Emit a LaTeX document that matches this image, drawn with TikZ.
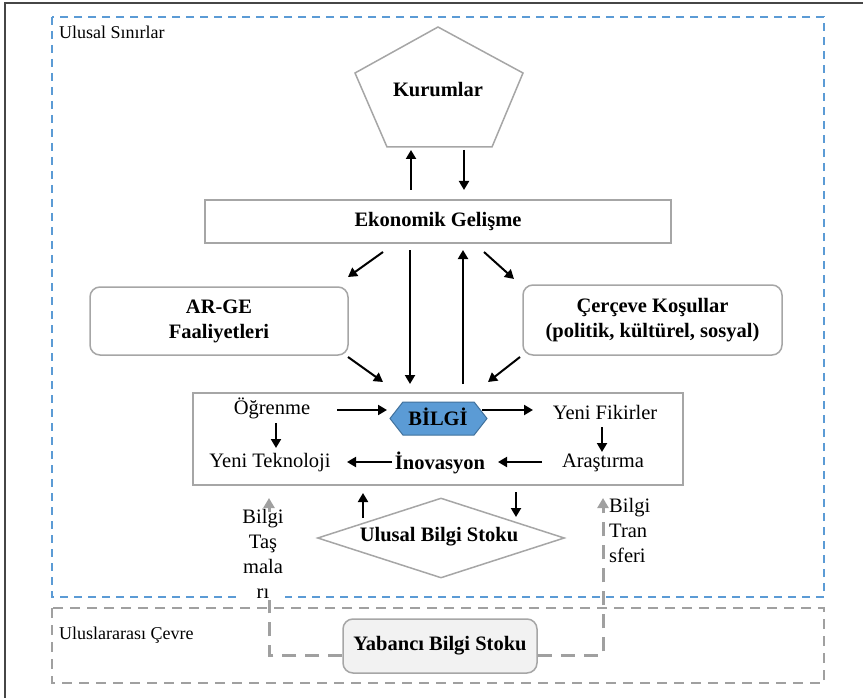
\documentclass[tikz,border=0pt]{standalone}
\usepackage{fontspec}
\setmainfont{Liberation Serif}
\usetikzlibrary{arrows.meta,shapes.geometric,shapes.symbols,calc}
\definecolor{borderblue}{RGB}{91,155,213}
\definecolor{boxgray}{RGB}{166,166,166}
\definecolor{dashgray}{RGB}{160,160,160}
\definecolor{hexfill}{RGB}{91,155,213}
\definecolor{hexline}{RGB}{65,113,156}
\definecolor{stockfill}{RGB}{242,242,242}
\definecolor{framegray}{RGB}{70,70,70}
\begin{document}
\begin{tikzpicture}[x=1pt,y=-1pt,
  box/.style={draw=boxgray, line width=1.5pt, fill=white, inner sep=0pt},
  rbox/.style={box, rounded corners=10pt},
  arr/.style={line width=2pt, -{Triangle[length=9pt,width=10pt]}},
  flow/.style={color=dashgray, line width=3pt, dash pattern=on 14pt off 9pt},
  flowtip/.style={color=dashgray, line width=3pt, solid, -{Triangle[length=10pt,width=11pt]}},
  txt/.style={font=\fontsize{20.5}{25}\selectfont, inner sep=0pt},
  btxt/.style={font=\fontsize{20.5}{25}\selectfont\bfseries, inner sep=0pt},
  lbl/.style={font=\fontsize{18}{22}\selectfont, inner sep=0pt},
  region/.style={line width=2.2pt}
]
\useasboundingbox (0,0) rectangle (863,698);

% page frame (top and left edges)
\draw[framegray, line width=1.5pt] (5,698) -- (5,3) -- (863,3);

% national boundary and international environment
\draw[region, borderblue, dash pattern=on 8pt off 6pt] (52,17) rectangle (824,597);
\draw[region, dashgray, dash pattern=on 10pt off 7pt] (52,608) rectangle (824,683);
\node[lbl, anchor=base west] (ulusal) at (59,39) {Ulusal Sınırlar};
\node[lbl, anchor=base west] (cevre) at (59,639) {Uluslararası Çevre};

% institutions
\draw[boxgray, line width=1.5pt, fill=white]
  (438,27) -- (523,73) -- (492,147) -- (387,147) -- (355,73) -- cycle;
\node[btxt] (kur) at (438,90) {Kurumlar};

% main boxes
\node[box, minimum width=466pt, minimum height=43pt, btxt] (eko) at (438,221.5) {Ekonomik Gelişme};
\node[rbox, minimum width=258pt, minimum height=68pt, btxt, align=center] (arge) at (219,321) {AR-GE\\Faaliyetleri};
\node[rbox, minimum width=259pt, minimum height=70pt, btxt, align=center] (cerceve) at (652.5,320) {Çerçeve Koşullar\\(politik, kültürel, sosyal)};
\node[box, minimum width=490pt, minimum height=92pt] (ic) at (438,439) {};

% knowledge cycle
\node[txt] (ogr) at (272,408) {Öğrenme};
\node[signal, signal to=west and east, signal pointer angle=104, draw=hexline, fill=hexfill,
  line width=1pt, minimum width=97pt, minimum height=33pt, inner sep=0pt] (hex) at (438.5,418.5) {};
\node[btxt] (bilgi) at (438,417) {BİLGİ};
\node[txt] (fik) at (605,412) {Yeni Fikirler};
\node[txt] (tek) at (270,463) {Yeni Teknoloji};
\node[btxt] (ino) at (440,463) {İnovasyon};
\node[txt] (ara) at (603,463) {Araştırma};

% national knowledge stock
\node[draw=boxgray, line width=1.5pt, fill=white, diamond, aspect=3.09,
  minimum width=247pt, minimum height=80pt, inner sep=0pt] (stok) at (441,538) {};
\node[btxt] (stoktxt) at (439,537) {Ulusal Bilgi Stoku};

% foreign knowledge stock
\node[rbox, fill=stockfill, minimum width=194pt, minimum height=54pt, btxt] (yab) at (440,646) {Yabancı Bilgi Stoku};

% arrow end points
\coordinate (kurUpA) at (411,190);  \coordinate (kurUpB) at (411,150);
\coordinate (kurDnA) at (464,150);  \coordinate (kurDnB) at (464,190);
\coordinate (ekoL1) at (383,252);   \coordinate (ekoL2) at (348,277);
\coordinate (ekoR1) at (484,252);   \coordinate (ekoR2) at (514,279);
\coordinate (ekoDnA) at (410,250);  \coordinate (ekoDnB) at (410,384);
\coordinate (ekoUpA) at (463,384);  \coordinate (ekoUpB) at (463,250);
\coordinate (argeA) at (348,357);   \coordinate (argeB) at (383,382);
\coordinate (cerA) at (520,357);    \coordinate (cerB) at (488,382);
\coordinate (ogrA) at (337,410);    \coordinate (ogrB) at (387,410);
\coordinate (bilA) at (482,410);    \coordinate (bilB) at (533,410);
\coordinate (ogrDnA) at (276,423);  \coordinate (ogrDnB) at (276,448);
\coordinate (fikDnA) at (602,427);  \coordinate (fikDnB) at (602,452);
\coordinate (araA) at (542,462);    \coordinate (araB) at (498,462);
\coordinate (inoA) at (392,462);    \coordinate (inoB) at (347,462);
\coordinate (stokUpA) at (363,518); \coordinate (stokUpB) at (363,493);
\coordinate (stokDnA) at (516,492); \coordinate (stokDnB) at (516,517);
\coordinate (tasBase) at (269,512); \coordinate (tasTip) at (269,498);
\coordinate (trBase) at (603,512);  \coordinate (trTip) at (603,498);

\draw[arr] (kurUpA) -- (kurUpB);
\draw[arr] (kurDnA) -- (kurDnB);
\draw[arr] (ekoL1) -- (ekoL2);
\draw[arr] (ekoR1) -- (ekoR2);
\draw[arr] (ekoDnA) -- (ekoDnB);
\draw[arr] (ekoUpA) -- (ekoUpB);
\draw[arr] (argeA) -- (argeB);
\draw[arr] (cerA) -- (cerB);
\draw[arr] (ogrA) -- (ogrB);
\draw[arr] (bilA) -- (bilB);
\draw[arr] (ogrDnA) -- (ogrDnB);
\draw[arr] (fikDnA) -- (fikDnB);
\draw[arr] (araA) -- (araB);
\draw[arr] (inoA) -- (inoB);
\draw[arr] (stokUpA) -- (stokUpB);
\draw[arr] (stokDnA) -- (stokDnB);

% knowledge flows from abroad; the left label sits over its line
\draw[flow] ([yshift=-9pt]yab.west) -| (tasBase);
\draw[flow] ([yshift=-9pt]yab.east) -| (trBase);
\node[txt, align=center, fill=white, inner sep=1pt] (tas) at (263,554) {Bilgi\\Taş\\mala\\rı};
\draw[flowtip] (tasBase) -- (tasTip);
\draw[flowtip] (trBase) -- (trTip);
\node[txt, align=left, anchor=north west] (tr) at (609,498) {Bilgi\\Tran\\sferi};
\end{tikzpicture}
\end{document}
